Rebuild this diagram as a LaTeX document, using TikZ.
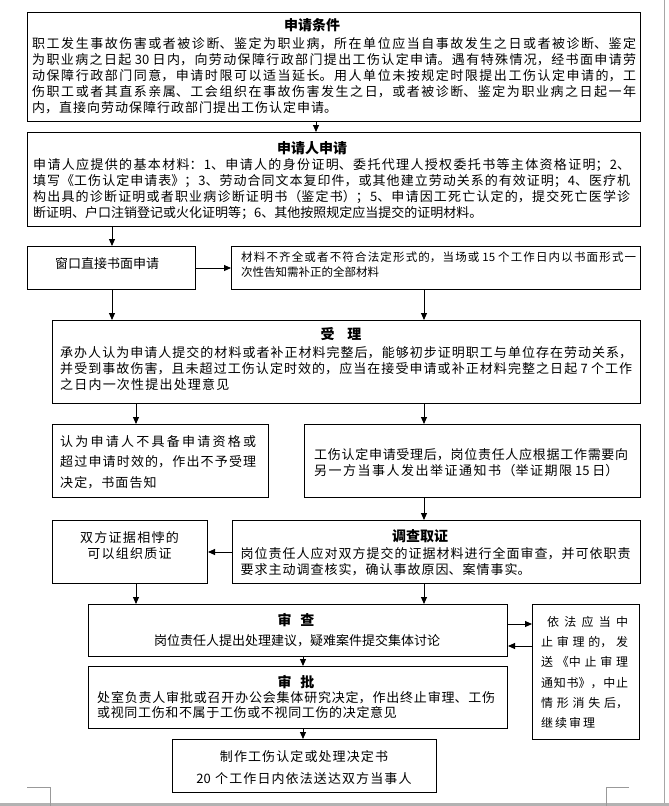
\documentclass[tikz,border=0pt]{standalone}
\usepackage{fontspec}
\setmainfont{Noto Sans CJK SC}
\usetikzlibrary{arrows.meta}
\XeTeXlinebreaklocale "zh"
\XeTeXlinebreakskip=0pt plus 4pt
\setlength{\parindent}{0pt}
\tolerance=9999
\hbadness=10000
\newcommand{\spread}[2]{{\XeTeXlinebreakskip=#1pt\relax #2}}
\begin{document}
\begin{tikzpicture}[x=1pt,y=-1pt,
  box/.style={draw, line width=1pt, anchor=north west, inner sep=0pt},
  txt/.style={anchor=base west, inner sep=0pt, align=justify},
  ctxt/.style={anchor=base, inner sep=0pt, align=center},
  ttl/.style={anchor=base, inner sep=0pt, font=\fontsize{14}{16}\selectfont\bfseries},
  arr/.style={-{Triangle[length=7pt,width=6pt]}, line width=0.9pt},
  cornermark/.style={draw=gray!80, line width=0.8pt},
  body/.style={font=\fontsize{13}{16}\selectfont}
]
\useasboundingbox[fill=white] (0,0) rectangle (669,806);
% page decorations
\draw[gray!70, line width=0.8pt] (664,0) -- (664,803);
\fill[gray!60] (0,803) rectangle (669,806);
\draw[cornermark] (27,787) -- (50,787) -- (50,806);
\draw[cornermark] (629,787) -- (606,787) -- (606,806);

% coordinates for connectors
\coordinate (xa) at (316,0);
\coordinate (xb) at (112,0);
\coordinate (xc) at (424,0);
\coordinate (xd) at (136,0);
\coordinate (xe) at (303,0);
\coordinate (ya) at (0,624);
\coordinate (yb) at (0,646);

% box 1
\node[box, minimum width=613, minimum height=109] (b1) at (27,12) {};
\node[ttl] (t1) at (312,30.5) {申请条件};
\node[txt, body, text width=604] (x1) at (32,48) {职工发生事故伤害或者被诊断、鉴定为职业病，所在单位应当自事故发生之日或者被诊断、鉴定\linebreak 为职业病之日起 30 日内，向劳动保障行政部门提出工伤认定申请。遇有特殊情况，经书面申请劳\linebreak 动保障行政部门同意，申请时限可以适当延长。用人单位未按规定时限提出工伤认定申请的，工\linebreak 伤职工或者其直系亲属、工会组织在事故伤害发生之日，或者被诊断、鉴定为职业病之日起一年\linebreak \spread{1}{内，直接向劳动保障行政部门提出工伤认定申请。}};

% box 2
\node[box, minimum width=613, minimum height=94] (b2) at (27,132) {};
\node[ttl] (t2) at (312,153.5) {申请人申请};
\node[txt, body, text width=597] (x2) at (33,169) {申请人应提供的基本材料：1、申请人的身份证明、委托代理人授权委托书等主体资格证明；2、\linebreak 填写《工伤认定申请表》；3、劳动合同文本复印件，或其他建立劳动关系的有效证明；4、医疗机\linebreak 构出具的诊断证明或者职业病诊断证明书（鉴定书）；5、申请因工死亡认定的，提交死亡医学诊\linebreak 断证明、户口注销登记或火化证明等；6、其他按照规定应当提交的证明材料。};

% row 3
\node[box, minimum width=168, minimum height=43] (win) at (27,246) {};
\node[txt, body] (xw) at (55,268) {\spread{0.85}{窗口直接书面申请}};
\node[box, minimum width=409, minimum height=43] (rb3) at (231,246) {};
\node[txt, font=\fontsize{11.5}{15}\selectfont, text width=395] (xr3) at (241,261.5) {材料不齐全或者不符合法定形式的，当场或 15 个工作日内以书面形式一\linebreak 次性告知需补正的全部材料};

% acceptance
\node[box, minimum width=588, minimum height=83] (sl) at (52,320) {};
\node[ttl] (t3) at (341,339.5) {受\hspace{13pt}理};
\node[txt, body, text width=572] (x3) at (60,357) {承办人认为申请人提交的材料或者补正材料完整后，能够初步证明职工与单位存在劳动关系，\linebreak 并受到事故伤害，且未超过工伤认定时效的，应当在接受申请或补正材料完整之日起 7 个工作\linebreak \spread{1.2}{之日内一次性提出处理意见}};

% row 5
\node[box, minimum width=216, minimum height=73] (lb5) at (52,424) {};
\node[txt, font=\fontsize{13}{20.5}\selectfont, text width=196] (xl5) at (60,446) {认为申请人不具备申请资格或\linebreak 超过申请时效的，作出不予受理\linebreak \spread{1.1}{决定，书面告知}};
\node[box, minimum width=336, minimum height=73] (rb5) at (304,424) {};
\node[txt, body, text width=314] (xr5) at (314,459) {工伤认定申请受理后，岗位责任人应根据工作需要向\linebreak \spread{1.5}{另一方当事人发出举证通知书（举证期限 15 日）}};

% investigation
\node[box, minimum width=408, minimum height=63] (dc) at (232,520) {};
\node[ttl] (t4) at (420,541.5) {调查取证};
\node[txt, body, text width=390] (x4) at (240.5,558) {岗位责任人应对双方提交的证据材料进行全面审查，并可依职责\linebreak \spread{1}{要求主动调查核实，确认事故原因、案情事实。}};
\node[box, minimum width=155, minimum height=63] (zz) at (52,520) {};
\node[ctxt, body, text width=150] (xz) at (129.5,542) {\spread{1.3}{双方证据相悖的\\可以组织质证}};

% review
\node[box, minimum width=419, minimum height=52] (sc) at (88,604) {};
\node[ttl] (t5) at (296,625.5) {审\hspace{9pt}查};
\node[ctxt, body] (x5) at (297,645) {\spread{1}{岗位责任人提出处理建议，疑难案件提交集体讨论}};

% suspension box
\node[box, minimum width=107, minimum height=135] (nb) at (532,604) {};
\node[txt, font=\fontsize{12}{20.2}\selectfont, text width=87] (xn) at (541,626.5) {\hspace*{6pt}依法应当中\linebreak 止审理的，发\linebreak 送《中止审理\linebreak 通知书》，中止\linebreak 情形消失后，\linebreak \spread{2}{继续审理}};

% approval
\node[box, minimum width=419, minimum height=62] (sp) at (88,666) {};
\node[ttl] (t6) at (296,687.5) {审\hspace{9pt}批};
\node[txt, font=\fontsize{13}{15}\selectfont, text width=398] (x6) at (97,702) {处室负责人审批或召开办公会集体研究决定，作出终止审理、工伤\linebreak \spread{0.65}{或视同工伤和不属于工伤或不视同工伤的决定意见}};

% final
\node[box, minimum width=264, minimum height=53] (fb) at (172,739) {};
\node[ctxt, font=\fontsize{13}{22}\selectfont, text width=260] (xf) at (304,761) {\spread{1.1}{制作工伤认定或处理决定书\\20 个工作日内依法送达双方当事人}};

% connectors
\draw[arr] (b1.south -| xa) -- (b2.north -| xa);
\draw[arr] (b2.south -| xb) -- (win.north -| xb);
\draw[arr] (win.east) -- (win.east -| rb3.west);
\draw[arr] (win.south -| xb) -- (sl.north -| xb);
\draw[arr] (rb3.south -| xc) -- (sl.north -| xc);
\draw[arr] (sl.south -| xd) -- (lb5.north -| xd);
\draw[arr] (sl.south -| xc) -- (rb5.north -| xc);
\draw[arr] (rb5.south -| xc) -- (dc.north -| xc);
\draw[arr] (dc.west) -- (dc.west -| zz.east);
\draw[arr] (zz.south -| xd) -- (sc.north -| xd);
\draw[arr] (dc.south -| xc) -- (sc.north -| xc);
\draw[arr] (sc.east |- ya) -- (nb.west |- ya);
\draw[arr] (nb.west |- yb) -- (sc.east |- yb);
\draw[arr] (sc.south -| xe) -- (sp.north -| xe);
\draw[arr] (sp.south -| xe) -- (fb.north -| xe);
\end{tikzpicture}
\end{document}
